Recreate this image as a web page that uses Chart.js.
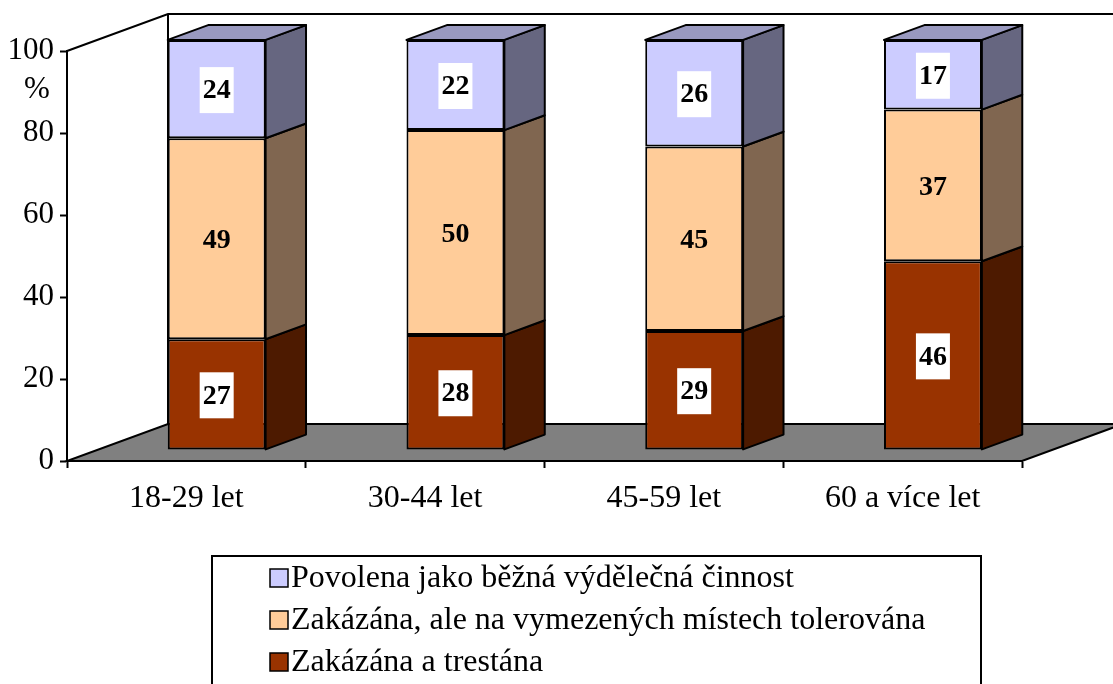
<!DOCTYPE html>
<html>
<head>
<meta charset="utf-8">
<script src="https://cdn.jsdelivr.net/npm/chart.js@4"></script>
<style>
  html, body { margin: 0; padding: 0; background: #fff; }
  #wrap { width: 1113px; height: 684px; }
</style>
</head>
<body>
<div id="wrap"><canvas id="chart" width="1113" height="684"></canvas></div>
<script>
// chart values
const categories = ['18-29 let', '30-44 let', '45-59 let', '60 a více let'];
const trestana = [27, 28, 29, 46];
const tolerovana = [49, 50, 45, 37];
const povolena = [24, 22, 26, 17];
const yTicks = [0, 20, 40, 60, 80, 100];

const seriesNames = [
  'Zakázána a trestána',
  'Zakázána, ale na vymezených místech tolerována',
  'Povolena jako běžná výdělečná činnost'
];
const frontColors = ['#993300', '#FFCC99', '#CCCCFF'];
const sideColors = ['#4D1A00', '#806650', '#666680'];
const topColors = ['#732600', '#BF9973', '#9999BF'];

const FONT = '"Liberation Serif", "Times New Roman", serif';

// depth of the 3d box: bars sit 0.3 deep, are 0.4 deep
const DEPTH_X = 101, DEPTH_Y = -37;
const OX = DEPTH_X * 0.3, OY = DEPTH_Y * 0.3;
const DX = DEPTH_X * 0.4, DY = DEPTH_Y * 0.4;

const threeD = {
  id: 'threeD',
  beforeDraw(chart) {
    const { ctx, chartArea: a } = chart;
    ctx.save();
    ctx.fillStyle = '#fff';
    ctx.fillRect(0, 0, chart.width, chart.height);
    ctx.strokeStyle = '#000';
    ctx.lineWidth = 2;
    // floor
    ctx.beginPath();
    ctx.moveTo(a.left, a.bottom);
    ctx.lineTo(a.right, a.bottom);
    ctx.lineTo(a.right + DEPTH_X, a.bottom + DEPTH_Y);
    ctx.lineTo(a.left + DEPTH_X, a.bottom + DEPTH_Y);
    ctx.closePath();
    ctx.fillStyle = '#808080';
    ctx.fill();
    ctx.stroke();
    // walls
    ctx.beginPath();
    ctx.moveTo(a.left, a.top);
    ctx.lineTo(a.left + DEPTH_X, a.top + DEPTH_Y);
    ctx.lineTo(a.right + DEPTH_X, a.top + DEPTH_Y);
    ctx.moveTo(a.left + DEPTH_X, a.top + DEPTH_Y);
    ctx.lineTo(a.left + DEPTH_X, a.bottom + DEPTH_Y);
    ctx.stroke();
    ctx.restore();
  },
  beforeDatasetsDraw(chart) {
    chart.ctx.save();
    chart.ctx.translate(OX, OY);
  },
  afterDatasetsDraw(chart) {
    const ctx = chart.ctx;
    ctx.restore();
    ctx.save();
    ctx.strokeStyle = '#000';
    ctx.lineWidth = 2;
    ctx.lineJoin = 'round';
    const last = chart.data.datasets.length - 1;
    chart.data.datasets.forEach((ds, di) => {
      chart.getDatasetMeta(di).data.forEach(bar => {
        const right = bar.x + bar.width / 2 + OX;
        const left = bar.x - bar.width / 2 + OX;
        const top = bar.y + OY;
        const bottom = bar.base + OY;
        ctx.beginPath();
        ctx.moveTo(right, top);
        ctx.lineTo(right + DX, top + DY);
        ctx.lineTo(right + DX, bottom + DY);
        ctx.lineTo(right, bottom);
        ctx.closePath();
        ctx.fillStyle = sideColors[di];
        ctx.fill();
        ctx.stroke();
        if (di === last) {
          ctx.beginPath();
          ctx.moveTo(left, top);
          ctx.lineTo(left + DX, top + DY);
          ctx.lineTo(right + DX, top + DY);
          ctx.lineTo(right, top);
          ctx.closePath();
          ctx.fillStyle = topColors[di];
          ctx.fill();
          ctx.stroke();
        }
      });
    });
    // value labels
    ctx.font = 'bold 28px ' + FONT;
    ctx.textAlign = 'center';
    ctx.textBaseline = 'middle';
    chart.data.datasets.forEach((ds, di) => {
      chart.getDatasetMeta(di).data.forEach((bar, i) => {
        const cx = bar.x + OX;
        const cy = (bar.y + bar.base) / 2 + OY;
        if (di !== 1) {
          ctx.fillStyle = '#fff';
          ctx.fillRect(cx - 17, cy - 22, 34, 46);
        }
        ctx.fillStyle = '#000';
        ctx.fillText(String(ds.data[i]), cx, cy + 2);
      });
    });
    ctx.restore();
  },
  afterDraw(chart) {
    const ctx = chart.ctx;
    ctx.save();
    ctx.fillStyle = '#000';
    ctx.font = '31px ' + FONT;
    ctx.textAlign = 'center';
    ctx.textBaseline = 'middle';
    ctx.fillText('%', 37, 90);

    // legend box
    ctx.strokeStyle = '#000';
    ctx.lineWidth = 2;
    ctx.strokeRect(212, 556, 981 - 212, 160);
    const rows = [578, 620, 662];
    const order = [2, 1, 0];
    ctx.font = '32px ' + FONT;
    ctx.textAlign = 'left';
    order.forEach((di, r) => {
      const y = rows[r];
      ctx.fillStyle = frontColors[di];
      ctx.fillRect(270, y - 9, 18, 18);
      ctx.lineWidth = 1.5;
      ctx.strokeRect(270, y - 9, 18, 18);
      ctx.fillStyle = '#000';
      ctx.fillText(seriesNames[di], 291, y + 1);
    });
    ctx.restore();
  }
};

new Chart(document.getElementById('chart'), {
  type: 'bar',
  data: {
    labels: categories,
    datasets: [trestana, tolerovana, povolena].map((vals, i) => ({
      label: seriesNames[i],
      data: vals,
      backgroundColor: frontColors[i],
      borderColor: '#000',
      borderWidth: 2,
      borderSkipped: false,
      barPercentage: 0.41,
      categoryPercentage: 1
    }))
  },
  options: {
    responsive: false,
    animation: false,
    layout: { padding: { top: 51, right: 91, left: 0, bottom: 0 } },
    plugins: { legend: { display: false }, tooltip: { enabled: false } },
    scales: {
      x: {
        stacked: true,
        grid: { drawOnChartArea: false, tickLength: 7, tickColor: '#000', tickWidth: 2 },
        border: { color: '#000', width: 2 },
        ticks: { color: '#000', padding: 11, font: { family: FONT, size: 32 } },
        afterFit(scale) { scale.height = 223; }
      },
      y: {
        stacked: true,
        min: 0,
        max: 100,
        afterBuildTicks(scale) { scale.ticks = yTicks.map(v => ({ value: v })); },
        grid: { drawOnChartArea: false, tickLength: 7, tickColor: '#000', tickWidth: 2 },
        border: { color: '#000', width: 2 },
        ticks: { color: '#000', padding: 6, font: { family: FONT, size: 31 } },
        afterFit(scale) { scale.width = 67; }
      }
    }
  },
  plugins: [threeD]
});
</script>
</body>
</html>
